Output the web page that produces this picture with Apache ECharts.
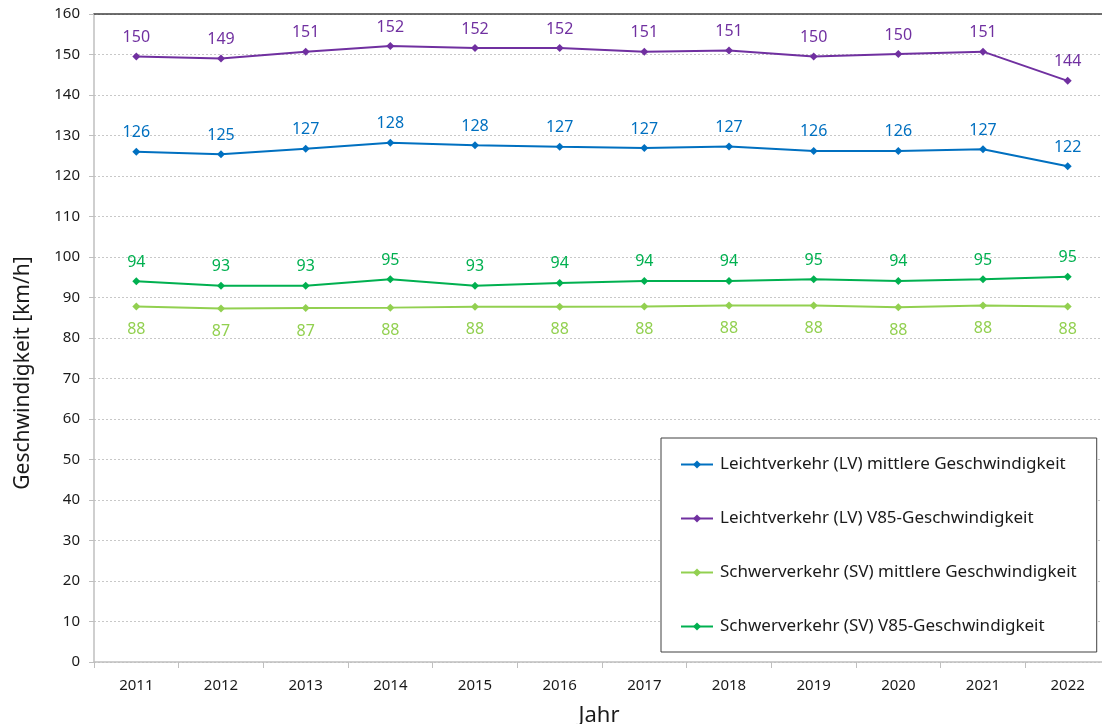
<!DOCTYPE html>
<html>
<head>
<meta charset="utf-8">
<script src="https://cdn.jsdelivr.net/npm/echarts@6/dist/echarts.min.js"></script>
<style>
html,body{margin:0;padding:0;background:#fff;}
#c{width:1102px;height:724px;}
</style>
</head>
<body>
<div id="c"></div>
<script>
const years = ['2011','2012','2013','2014','2015','2016','2017','2018','2019','2020','2021','2022'];
const lvMittel = [126.0,125.4,126.7,128.2,127.6,127.2,126.9,127.3,126.2,126.2,126.6,122.4];
const lvV85 = [149.5,149.0,150.7,152.1,151.6,151.6,150.7,151.0,149.5,150.1,150.7,143.5];
const svMittel = [87.8,87.3,87.4,87.5,87.7,87.7,87.8,88.0,88.0,87.6,88.0,87.8];
const svV85 = [94.0,92.9,92.9,94.5,92.9,93.6,94.1,94.1,94.5,94.1,94.5,95.1];
const yTicks = [0,10,20,30,40,50,60,70,80,90,100,110,120,130,140,150,160];

const FONT = '"Noto Sans", sans-serif';
function mk(name, data, color, pos) {
  return {
    name: name, type: 'line', data: data,
    symbol: 'diamond', symbolSize: 8,
    lineStyle: {color: color, width: 2},
    itemStyle: {color: color},
    label: {
      show: true, position: pos, distance: pos === 'top' ? 7 : 11,
      color: color, fontSize: 16, fontFamily: FONT,
      formatter: p => Math.round(p.value)
    },
    z: 3
  };
}
const chart = echarts.init(document.getElementById('c'));
chart.setOption({
  animation: false,
  textStyle: {fontFamily: FONT},
  grid: {left: 94, top: 14, width: 1016, height: 648, outerBoundsMode: 'none', containLabel: false},
  legend: {
    orient: 'vertical', left: 661, top: 438,
    backgroundColor: '#fff', borderColor: '#404040', borderWidth: 1,
    padding: [18, 20, 17, 19], itemGap: 37, itemWidth: 32, itemHeight: 10,
    textStyle: {fontSize: 17, lineHeight: 17, color: '#1a1a1a', fontFamily: FONT, padding: [0,0,0,2]},
    data: ['Leichtverkehr (LV) mittlere Geschwindigkeit','Leichtverkehr (LV) V85-Geschwindigkeit','Schwerverkehr (SV) mittlere Geschwindigkeit','Schwerverkehr (SV) V85-Geschwindigkeit']
  },
  xAxis: [{
    type: 'category', data: years, boundaryGap: true,
    name: 'Jahr', nameLocation: 'middle', nameGap: 43,
    nameTextStyle: {fontSize: 22, color: '#1a1a1a', fontFamily: FONT, padding: [0, 6, 0, 0]},
    axisLine: {lineStyle: {color: '#bfbfbf', width: 1.5}},
    axisTick: {show: true, length: 6, lineStyle: {color: '#bfbfbf'}},
    axisLabel: {fontSize: 15, color: '#1a1a1a', margin: 16},
    splitLine: {show: false}
  }, {
    type: 'category', data: years, position: 'top',
    axisLine: {lineStyle: {color: '#404040', width: 1.5}},
    axisTick: {show: false}, axisLabel: {show: false}
  }],
  yAxis: {
    type: 'value', min: 0, max: 160, interval: 10,
    name: 'Geschwindigkeit [km/h]', nameLocation: 'middle', nameGap: 60,
    nameTextStyle: {fontSize: 21, color: '#1a1a1a', fontFamily: FONT, padding: [0, 70, 0, 0]},
    axisLine: {show: true, lineStyle: {color: '#bfbfbf', width: 1.5}},
    axisTick: {show: true, length: 5, lineStyle: {color: '#bfbfbf'}},
    axisLabel: {fontSize: 15, color: '#1a1a1a', margin: 14,
      formatter: v => yTicks.includes(v) ? String(v) : ''},
    splitLine: {show: true, lineStyle: {color: '#c8c8c8', type: [2, 2], width: 1}}
  },
  series: [
    mk('Leichtverkehr (LV) mittlere Geschwindigkeit', lvMittel, '#0070c0', 'top'),
    mk('Leichtverkehr (LV) V85-Geschwindigkeit', lvV85, '#7030a0', 'top'),
    mk('Schwerverkehr (SV) mittlere Geschwindigkeit', svMittel, '#92d050', 'bottom'),
    mk('Schwerverkehr (SV) V85-Geschwindigkeit', svV85, '#00b050', 'top')
  ]
});
</script>
</body>
</html>
